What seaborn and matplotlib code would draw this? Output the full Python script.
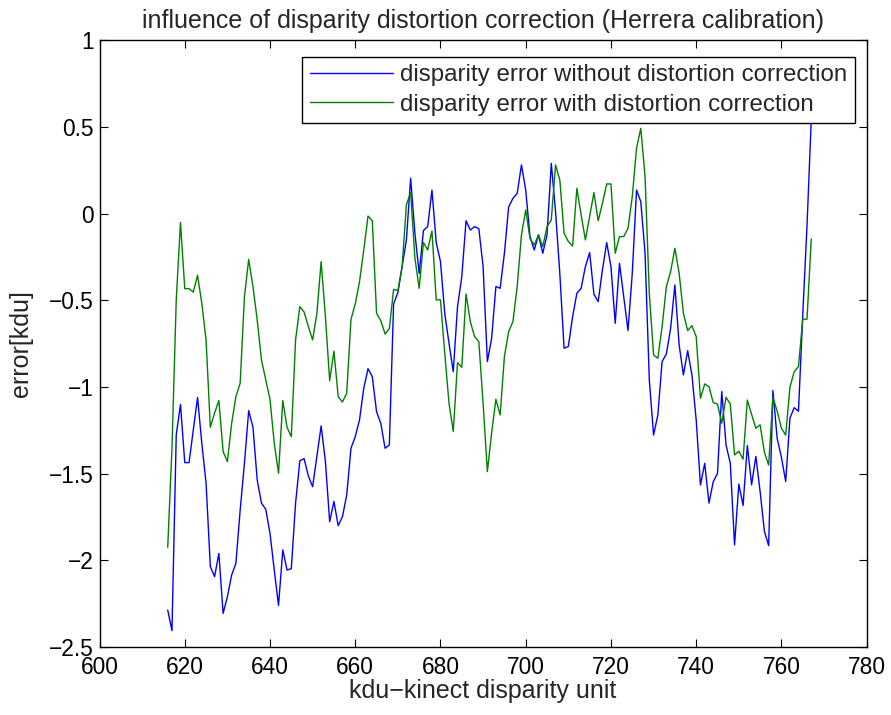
import matplotlib
matplotlib.use("Agg")
import matplotlib.pyplot as plt
from matplotlib.ticker import FuncFormatter
import seaborn as sns
import pandas as pd

# disparity axis (kdu), one sample per unit
disparity = list(range(616, 768))

# error without distortion correction (blue)
err_without = [
    -2.287, -2.406, -1.276, -1.10, -1.436, -1.436, -1.25, -1.06, -1.325, -1.555,
    -2.036, -2.094, -1.96, -2.306, -2.21, -2.085, -2.017, -1.71, -1.44, -1.136,
    -1.232, -1.536, -1.67, -1.705, -1.844, -2.056, -2.26, -1.94, -2.056, -2.048,
    -1.67, -1.425, -1.413, -1.513, -1.575, -1.40, -1.224, -1.43, -1.777, -1.66,
    -1.80, -1.748, -1.623, -1.353, -1.286, -1.19, -1.007, -0.894, -0.94, -1.142,
    -1.21, -1.353, -1.334, -0.52, -0.455, -0.305, -0.151, 0.205, -0.113, -0.344,
    -0.097, -0.074, 0.137, -0.166, -0.276, -0.574, -0.747, -0.911, -0.536, -0.363,
    -0.04, -0.094, -0.074, -0.086, -0.305, -0.853, -0.719, -0.42, -0.43, -0.228,
    0.04, 0.089, 0.118, 0.282, 0.137, -0.132, -0.209, -0.122, -0.228, -0.122,
    0.291, 0.012, -0.344, -0.776, -0.766, -0.594, -0.459, -0.43, -0.305, -0.224,
    -0.463, -0.507, -0.324, -0.166, -0.305, -0.632, -0.286, -0.48, -0.674, -0.344,
    0.137, 0.07, -0.228, -0.959, -1.277, -1.161, -0.853, -0.809, -0.661, -0.411,
    -0.757, -0.93, -0.79, -0.93, -1.19, -1.565, -1.44, -1.67, -1.546, -1.498,
    -1.026, -1.334, -1.44, -1.911, -1.56, -1.683, -1.337, -1.564, -1.4, -1.604,
    -1.832, -1.915, -1.02, -1.297, -1.406, -1.545, -1.178, -1.119, -1.139, -0.584,
    -0.069, 0.545,
]

# error with distortion correction (green)
err_with = [
    -1.925, -1.35, -0.497, -0.051, -0.432, -0.432, -0.452, -0.355, -0.517, -0.728,
    -1.232, -1.15, -1.078, -1.373, -1.43, -1.21, -1.055, -0.978, -0.478, -0.263,
    -0.42, -0.613, -0.844, -0.959, -1.071, -1.325, -1.497, -1.078, -1.232, -1.286,
    -0.728, -0.536, -0.567, -0.651, -0.728, -0.574, -0.276, -0.594, -0.963, -0.793,
    -1.055, -1.086, -1.036, -0.609, -0.521, -0.392, -0.209, -0.013, -0.04, -0.574,
    -0.617, -0.694, -0.663, -0.436, -0.444, -0.305, 0.051, 0.122, -0.257, -0.43,
    -0.166, -0.209, -0.099, -0.497, -0.497, -0.805, -1.094, -1.257, -0.859, -0.886,
    -0.463, -0.622, -0.709, -0.738, -1.094, -1.488, -1.266, -1.07, -1.161, -0.824,
    -0.68, -0.622, -0.42, -0.122, 0.022, -0.142, -0.18, -0.122, -0.19, -0.074,
    -0.036, 0.282, 0.195, -0.113, -0.16, -0.186, 0.147, -0.007, -0.151, -0.016,
    0.122, -0.04, 0.06, 0.172, 0.172, -0.228, -0.132, -0.132, -0.084, 0.099,
    0.378, 0.493, 0.214, -0.459, -0.815, -0.834, -0.651, -0.42, -0.334, -0.199,
    -0.344, -0.574, -0.674, -0.646, -0.709, -1.065, -0.982, -0.998, -1.09, -1.098,
    -1.209, -1.059, -1.098, -1.392, -1.37, -1.416, -1.075, -1.158, -1.238, -1.218,
    -1.376, -1.45, -1.059, -1.139, -1.238, -1.277, -1.0, -0.911, -0.881, -0.608,
    -0.608, -0.145,
]

label_without = "disparity error without distortion correction"
label_with = "disparity error with distortion correction"

x_ticks = [600, 620, 640, 660, 680, 700, 720, 740, 760, 780]
y_ticks = [1, 0.5, 0, -0.5, -1, -1.5, -2, -2.5]

sns.set_theme(style="ticks")
plt.rcParams["font.family"] = ["Liberation Sans", "DejaVu Sans"]

df = pd.DataFrame({"disparity": disparity,
                   "without": err_without,
                   "with": err_with})

fig = plt.figure(figsize=(8.91, 7.15), dpi=100)
ax = fig.add_axes([0.1117, 0.0951, 0.861, 0.8483])

sns.lineplot(data=df, x="disparity", y="without", color=(0, 0, 1),
             linewidth=1.0, label=label_without, ax=ax)
sns.lineplot(data=df, x="disparity", y="with", color=(0, 0.5, 0),
             linewidth=1.0, label=label_with, ax=ax)

ax.set_xlim(600, 780)
ax.set_ylim(-2.5, 1)
ax.set_xticks(x_ticks)
ax.set_yticks(y_ticks)
ax.yaxis.set_major_formatter(FuncFormatter(lambda v, p: ("%g" % v).replace("-", "\u2212")))

ax.tick_params(direction="in", length=6, width=0.8, labelsize=16.4,
               top=True, right=True, colors="black")
ax.tick_params(axis="x", pad=6.5)
ax.tick_params(axis="y", pad=4)
for s in ax.spines.values():
    s.set_visible(True)
    s.set_linewidth(1.0)
    s.set_color("black")

ax.set_title("influence of disparity distortion correction (Herrera calibration)",
             fontsize=18, pad=9)
ax.set_xlabel("kdu\u2212kinect disparity unit", fontsize=18, labelpad=0)
ax.set_ylabel("error[kdu]", fontsize=18, labelpad=12)

leg = ax.legend(loc="upper right", bbox_to_anchor=(0.9845, 0.9725),
                borderaxespad=0, fontsize=17.4, handlelength=3.45,
                frameon=True, fancybox=False, framealpha=1,
                borderpad=0.3, labelspacing=0.3, handletextpad=0.3)
leg.get_frame().set_edgecolor("black")
leg.get_frame().set_linewidth(1.0)

fig.savefig("out.png", dpi=100)
